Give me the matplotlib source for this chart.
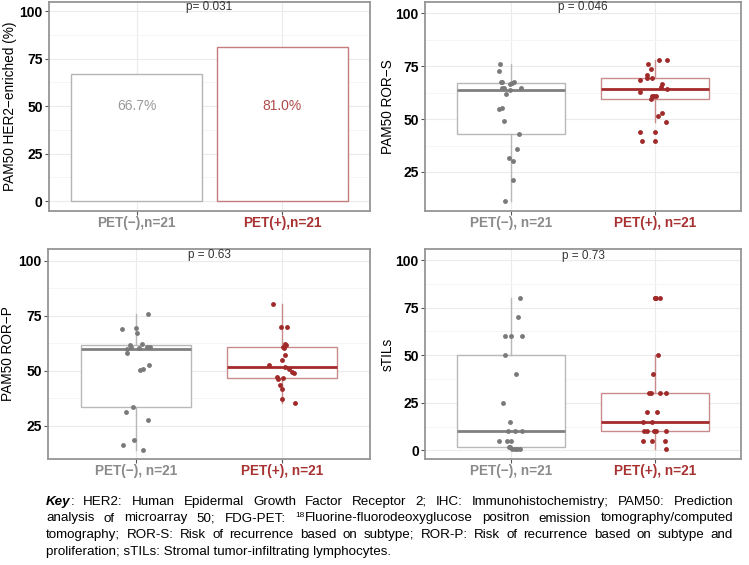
import matplotlib
matplotlib.use("Agg")
import matplotlib.pyplot as plt
import numpy as np

plt.rcParams['font.family'] = ['Liberation Sans', 'DejaVu Sans']

# ---------------- data ----------------
bar_groups = ["PET(−),n=21", "PET(+),n=21"]
box_groups = ["PET(−), n=21", "PET(+), n=21"]
her2_pct = [66.7, 81.0]
her2_labels = ["66.7%", "81.0%"]

rors_neg = [75.9, 72.5, 67.4, 67.6, 66.5, 66.8, 67.3, 64.6, 64.6, 63.8, 64.8,
            61.9, 54.7, 55.0, 49.2, 43.1, 35.8, 31.6, 30.3, 21.4, 11.1]
rors_neg_jit = [-0.079, -0.083, -0.074, -0.065, -0.011, 0.005, 0.023, -0.067, -0.049, -0.011, 0.07,
                -0.039, -0.083, -0.063, -0.049, 0.054, 0.04, -0.016, 0.014, 0.012, -0.044]
rors_pos = [78.0, 77.8, 75.8, 73.4, 70.8, 68.5, 69.2, 69.5, 66.5, 64.9, 64.1,
            62.7, 61.0, 61.0, 60.7, 59.4, 53.0, 51.4, 48.7, 43.9, 39.8]
rors_pos_jit = [0.03, 0.088, -0.049, -0.03, -0.054, -0.1, -0.051, -0.019, 0.053, 0.04, 0.086,
                -0.1, -0.021, -0.007, 0.005, -0.03, 0.049, 0.019, 0.081, -0.1, -0.086]

rorp_neg = [76.0, 69.0, 69.3, 67.0, 60.9, 62.0, 61.0, 61.0, 58.2, 52.5, 50.9,
            50.1, 33.5, 31.4, 27.4, 18.5, 16.0, 14.0, 60.1, 60.5, 61.8]
rorp_neg_jit = [0.084, -0.091, 0.0, 0.007, -0.03, 0.041, 0.073, 0.096, -0.057, 0.087, 0.048,
                0.03, -0.021, -0.068, 0.084, -0.014, -0.089, 0.05, -0.06, 0.02, -0.04]
rorp_pos = [80.2, 69.7, 70.0, 62.3, 61.5, 60.7, 57.1, 54.8, 52.8, 51.9, 50.6,
            49.3, 49.0, 47.2, 46.3, 46.8, 43.7, 41.6, 37.3, 35.2, 60.5]
rorp_pos_jit = [-0.066, -0.007, 0.034, 0.016, 0.026, 0.005, 0.016, -0.002, -0.09, 0.016, 0.046,
                0.064, 0.078, -0.034, -0.027, 0.007, -0.014, 0.0, -0.004, 0.087, 0.01]

stils_neg = [80, 70, 60, 60, 60, 50, 40, 25, 15, 10, 10, 10, 5, 5, 5, 2, 2, 1, 1, 1, 1]
stils_neg_jit = [0.061, 0.048, -0.045, 0.002, 0.075, -0.045, 0.032, -0.057, -0.009, -0.02, 0.075,
                 0.025, -0.082, -0.029, 0.002, -0.016, -0.005, 0.007, 0.025, 0.043, 0.059]
stils_pos = [80, 80, 50, 40, 30, 30, 30, 30, 20, 20, 15, 15, 10, 10, 10, 10, 10, 5, 5, 5, 1]
stils_pos_jit = [0.005, 0.036, 0.023, -0.011, -0.039, -0.027, 0.034, 0.079, -0.054, 0.016, -0.079,
                 -0.023, -0.073, -0.054, -0.009, 0.007, 0.079, -0.082, -0.023, 0.073, 0.077]

p_values = ["p= 0.031", "p = 0.046", "p = 0.63", "p = 0.73"]
y_titles = ["PAM50 HER2−enriched (%)", "PAM50 ROR−S", "PAM50 ROR−P", "sTILs"]

caption_lines = [
    [[("Key", "bi"), (":", "n")], "HER2:", "Human", "Epidermal", "Growth", "Factor", "Receptor", "2;",
     "IHC:", "Immunohistochemistry;", "PAM50:", "Prediction"],
    ["analysis", "of", "microarray", "50;", "FDG-PET:", [("18", "sup"), ("Fluorine-fluorodeoxyglucose", "n")],
     "positron", "emission", "tomography/computed"],
    ["tomography;", "ROR-S:", "Risk", "of", "recurrence", "based", "on", "subtype;", "ROR-P:", "Risk", "of",
     "recurrence", "based", "on", "subtype", "and"],
]
caption_last = "proliferation; sTILs: Stromal tumor-infiltrating lymphocytes."

# ---------------- styles ----------------
W, H = 749, 565
fig = plt.figure(figsize=(W / 100, H / 100), dpi=100)
fig.patch.set_facecolor('white')

tick_cols = ['#8a8a8a', '#a83232']
box_edge = ['#b8b8b8', '#c98a8a']
med_col = ['#808080', '#a52a2a']
pt_col = ['#7a7a7a', '#a02a2a']
bar_edge = ['#b5b5b5', '#c47c7c']
bar_txt = ['#9a9a9a', '#b04a4a']


def px_axes(l, t, r, b):
    return fig.add_axes([l / W, 1 - b / H, (r - l) / W, (b - t) / H])


def style_axes(ax, ylim, yticks, labels):
    ax.set_xlim(0.4, 2.6)
    ax.set_ylim(*ylim)
    ax.set_yticks(yticks)
    ax.set_yticklabels([str(t) for t in yticks], fontsize=10, fontweight='bold', color='black')
    minors = [t + 12.5 for t in [-25] + list(yticks) if ylim[0] < t + 12.5 < ylim[1]]
    ax.set_yticks(minors, minor=True)
    ax.set_xticks([1, 2])
    ax.set_xticklabels(labels, fontsize=9.8, fontweight='bold')
    for lab, c in zip(ax.get_xticklabels(), tick_cols):
        lab.set_color(c)
    ax.tick_params(axis='both', which='major', length=3, width=0.8, color='#555555', pad=1.5)
    ax.tick_params(axis='x', which='major', pad=0.8)
    ax.tick_params(axis='y', which='minor', length=0)
    ax.set_axisbelow(True)
    ax.grid(True, which='major', axis='both', color='#ebebeb', linewidth=0.8)
    ax.grid(True, which='minor', axis='y', color='#f4f4f4', linewidth=0.6)
    for s in ax.spines.values():
        s.set_color('#959595')
        s.set_linewidth(1.3)


def box_panel(ax, neg, neg_jit, pos, pos_jit):
    bp = ax.boxplot([neg, pos], positions=[1, 2], widths=0.75, patch_artist=True,
                    showcaps=False, whis=1.5, zorder=2)
    for i in range(2):
        bp['boxes'][i].set(facecolor='white', edgecolor=box_edge[i], linewidth=1.0)
        bp['medians'][i].set(color=med_col[i], linewidth=2.0)
        bp['whiskers'][2 * i].set(color=box_edge[i], linewidth=1.0)
        bp['whiskers'][2 * i + 1].set(color=box_edge[i], linewidth=1.0)
        bp['fliers'][i].set(marker='o', markerfacecolor=pt_col[i], markeredgecolor='none',
                            markersize=3.5)
    for i, (vals, jit) in enumerate([(neg, neg_jit), (pos, pos_jit)]):
        ax.plot(1 + i + np.array(jit), vals, 'o', color=pt_col[i], markeredgecolor='none',
                markersize=3.5, zorder=4)


def ylabel(text, xpx, t, b):
    fig.text(xpx / W, 1 - (t + b) / 2 / H, text, rotation=90, ha='center', va='center',
             fontsize=9.8, color='black')


# Panel 1: bars
ax1 = px_axes(49, 2, 370, 211)
ax1.bar([1, 2], her2_pct, width=0.9, facecolor='white', edgecolor=bar_edge, linewidth=1.0, zorder=2)
for i, (v, lab) in enumerate(zip(her2_pct, her2_labels)):
    ax1.text(1 + i, 50, lab, ha='center', va='center', fontsize=10, color=bar_txt[i], zorder=3)
style_axes(ax1, (-5.2, 104.8), [0, 25, 50, 75, 100], bar_groups)
ax1.text(1.5, 102.3, p_values[0], ha='center', va='center', fontsize=8.5, color='#333333')
ylabel(y_titles[0], 10, 2, 211)

# Panel 2: ROR-S
ax2 = px_axes(425, 2, 741, 211)
box_panel(ax2, rors_neg, rors_neg_jit, rors_pos, rors_pos_jit)
style_axes(ax2, (6.6, 105.2), [25, 50, 75, 100], box_groups)
ax2.text(1.5, 103.0, p_values[1], ha='center', va='center', fontsize=8.5, color='#333333')
ylabel(y_titles[1], 388, 2, 211)

# Panel 3: ROR-P
ax3 = px_axes(48, 249, 370, 459)
box_panel(ax3, rorp_neg, rorp_neg_jit, rorp_pos, rorp_pos_jit)
style_axes(ax3, (9.8, 105.4), [25, 50, 75, 100], box_groups)
ax3.text(1.5, 102.6, p_values[2], ha='center', va='center', fontsize=8.5, color='#333333')
ylabel(y_titles[2], 8, 249, 459)

# Panel 4: sTILs
ax4 = px_axes(425, 249, 741, 459)
box_panel(ax4, stils_neg, stils_neg_jit, stils_pos, stils_pos_jit)
style_axes(ax4, (-4.5, 105.8), [0, 25, 50, 75, 100], box_groups)
ax4.text(1.5, 102.2, p_values[3], ha='center', va='center', fontsize=8.5, color='#333333')
ylabel(y_titles[3], 388, 249, 459)

# ---------------- caption (justified) ----------------
cap_fs = 9.6
renderer = fig.canvas.get_renderer()
left_px, right_px = 46, 733
baselines = [505, 521.5, 538, 554.5]

for li, words in enumerate(caption_lines):
    ybase = 1 - baselines[li] / H
    items = []
    for w in words:
        segs = w if isinstance(w, list) else [(w, 'n')]
        objs = []
        for s, st in segs:
            kw = dict(fontsize=cap_fs, va='baseline', ha='left', color='black')
            yy = ybase
            if st == 'bi':
                kw.update(fontweight='bold', fontstyle='italic')
            if st == 'sup':
                kw['fontsize'] = cap_fs * 0.62
                yy = ybase + 4.5 / H
            t = fig.text(0, yy, s, **kw)
            objs.append((t, t.get_window_extent(renderer).width))
        items.append(objs)
    total = sum(wd for it in items for _, wd in it)
    gap = (right_px - left_px - total) / (len(items) - 1)
    x = left_px
    for it in items:
        for t, wd in it:
            t.set_x(x / W)
            x += wd
        x += gap

fig.text(left_px / W, 1 - baselines[3] / H, caption_last, fontsize=cap_fs, va='baseline',
         ha='left', color='black')

fig.savefig("out.png", dpi=100, facecolor='white')
